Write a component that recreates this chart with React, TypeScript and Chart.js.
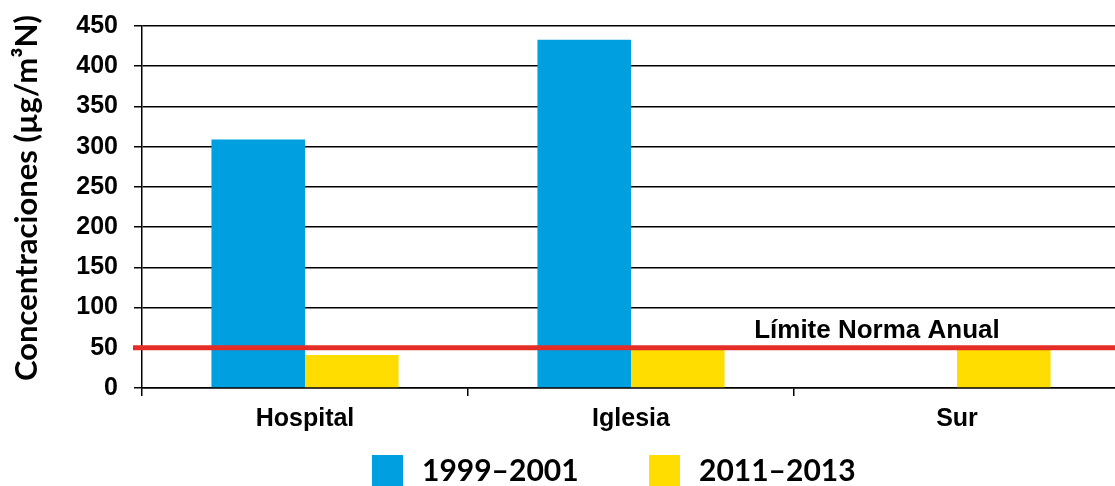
import React, { useEffect, useRef } from "react";
import { Chart, registerables } from "chart.js";

Chart.register(...registerables);

const categories = ["Hospital", "Iglesia", "Sur"];
const seriesLabels = ["1999–2001", "2011–2013"];
const series1999 = [309, 433, null];
const series2011 = [41, 48, 49];
const yTicks = [0, 50, 100, 150, 200, 250, 300, 350, 400, 450];
const limitValue = 50;
const limitLabel = "Límite Norma Anual";
const yTitle = "Concentraciones (µg/m³N)";

const BLUE = "#009FE0";
const YELLOW = "#FFDD00";
const RED = "#E52D27";
const SANS = "'Liberation Sans', Arial, sans-serif";
const HUMANIST = "Lato, 'Open Sans', sans-serif";

const overlayPlugin = {
  id: "overlay",
  afterDatasetsDraw(chart: any) {
    const { ctx, chartArea, scales } = chart;
    const y = scales.y.getPixelForValue(limitValue);
    ctx.save();
    ctx.strokeStyle = RED;
    ctx.lineWidth = 5;
    ctx.beginPath();
    ctx.moveTo(chartArea.left - 9, y);
    ctx.lineTo(chart.width, y);
    ctx.stroke();
    ctx.fillStyle = "#000";
    ctx.font = `bold 26px ${SANS}`;
    ctx.textAlign = "center";
    ctx.textBaseline = "alphabetic";
    const cx = chartArea.left + (chartArea.right - chartArea.left) * 0.7515;
    ctx.fillText(limitLabel, cx, y - 10);
    ctx.restore();
  },
  afterDraw(chart: any) {
    const { ctx, chartArea } = chart;
    const datasets = chart.data.datasets;
    ctx.save();
    // y-axis title
    ctx.font = `bold 31px ${HUMANIST}`;
    ctx.fillStyle = "#000";
    ctx.textAlign = "center";
    ctx.textBaseline = "middle";
    ctx.translate(27, (chartArea.top + chartArea.bottom) / 2 - 9);
    ctx.rotate(-Math.PI / 2);
    ctx.fillText(yTitle, 0, 0);
    ctx.restore();

    ctx.save();
    ctx.font = `bold 30px ${HUMANIST}`;
    ctx.textBaseline = "middle";
    ctx.textAlign = "left";
    const starts = [372, 649];
    const boxTop = 455;
    const box = 31;
    datasets.forEach((ds: any, i: number) => {
      const x = starts[i];
      ctx.fillStyle = ds.backgroundColor;
      ctx.fillRect(x, boxTop, box, box);
      ctx.fillStyle = "#000";
      ctx.fillText(ds.label, x + box + 19, boxTop + box / 2 + 1);
    });
    ctx.restore();
  },
};

export default function App() {
  const ref = useRef<HTMLCanvasElement | null>(null);

  useEffect(() => {
    document.body.style.margin = "0";
    const canvas = ref.current;
    if (!canvas) return;
    const chart = new Chart(canvas, {
      type: "bar",
      data: {
        labels: categories,
        datasets: [
          {
            label: seriesLabels[0],
            data: series1999,
            backgroundColor: BLUE,
            categoryPercentage: 0.574,
            barPercentage: 1,
          },
          {
            label: seriesLabels[1],
            data: series2011,
            backgroundColor: YELLOW,
            categoryPercentage: 0.574,
            barPercentage: 1,
          },
        ],
      },
      options: {
        animation: false,
        responsive: false,
        devicePixelRatio: 1,
        layout: { padding: { top: 26, left: 0, right: 0, bottom: 0 } },
        plugins: {
          legend: { display: false },
          tooltip: { enabled: false },
        },
        scales: {
          x: {
            grid: {
              drawOnChartArea: false,
              drawTicks: true,
              tickLength: 8,
              color: "#000",
              lineWidth: 1.5,
              offset: true,
            },
            border: { color: "#000", width: 1.5 },
            ticks: {
              color: "#000",
              font: { family: SANS, size: 25, weight: "bold" },
              padding: 8,
            },
            afterFit(scale: any) {
              scale.height = 98;
            },
          },
          y: {
            min: 0,
            max: 450,
            afterBuildTicks(scale: any) {
              scale.ticks = yTicks.map((v) => ({ value: v }));
            },
            grid: {
              color: "#000",
              lineWidth: 1.5,
              tickLength: 8,
            },
            border: { color: "#000", width: 1.5 },
            ticks: {
              color: "#000",
              font: { family: SANS, size: 25, weight: "bold" },
              padding: 16,
            },
            title: { display: false, text: yTitle },
            afterFit(scale: any) {
              scale.width = 142;
              scale.paddingTop = 10;
              scale.paddingBottom = 10;
            },
          },
        },
      },
      plugins: [overlayPlugin],
    });
    return () => chart.destroy();
  }, []);

  return (
    <div style={{ width: 1115, height: 486, overflow: "hidden" }}>
      <canvas ref={ref} width={1120} height={486} style={{ display: "block" }} />
    </div>
  );
}
